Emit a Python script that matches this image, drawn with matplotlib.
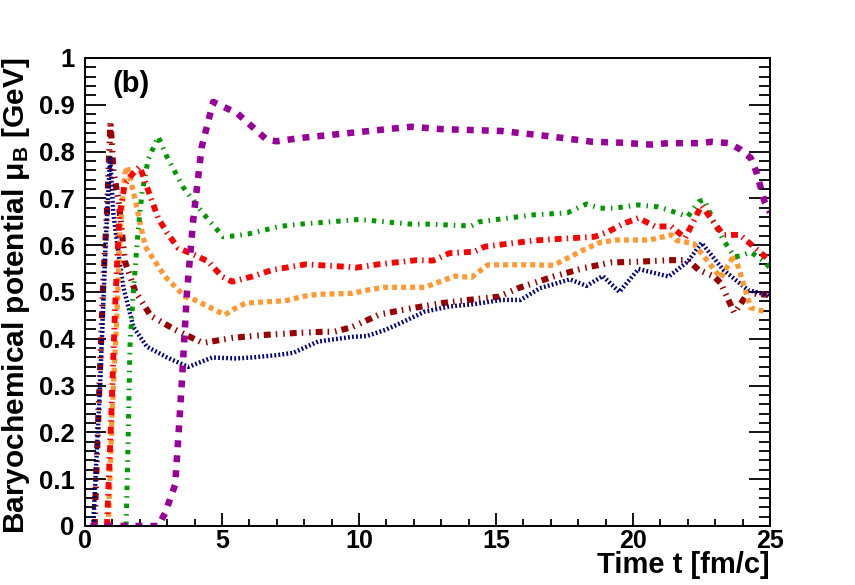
import matplotlib
matplotlib.use("Agg")
import matplotlib.pyplot as plt
from matplotlib.ticker import MultipleLocator, FixedLocator

plt.rcParams['font.family'] = ['Liberation Sans', 'DejaVu Sans']
plt.rcParams['font.weight'] = 'bold'
plt.rcParams['mathtext.fontset'] = 'custom'
plt.rcParams['mathtext.rm'] = 'Liberation Sans'
plt.rcParams['mathtext.it'] = 'Liberation Sans'
plt.rcParams['mathtext.bf'] = 'Liberation Sans:bold'
plt.rcParams['lines.scale_dashes'] = False

# navy, fine dotted
t_navy = [0.3, 0.55, 0.75, 0.92, 1.03, 1.25, 1.4, 1.77, 2.26, 3.0, 3.77, 4.3, 4.64, 5.5, 6.1, 7.0, 7.6,
          8.5, 9.1, 9.75, 10.3, 10.96, 11.5, 12.4, 13.3, 14.2, 15.2, 15.9, 16.6, 17.7, 18.3, 18.9,
          19.5, 20.2, 21.3, 22.0, 22.5, 23.3, 24.2, 24.9, 25.0]
mu_navy = [0.0, 0.3, 0.6, 0.79, 0.67, 0.57, 0.51, 0.425, 0.383, 0.36, 0.34, 0.352, 0.36, 0.358, 0.36,
           0.365, 0.37, 0.394, 0.399, 0.404, 0.406, 0.419, 0.433, 0.458, 0.469, 0.474, 0.483, 0.483,
           0.508, 0.527, 0.513, 0.534, 0.50, 0.549, 0.533, 0.565, 0.605, 0.547, 0.504, 0.494, 0.49]

# dark red
t_dred = [0.35, 0.49, 0.67, 0.8, 0.93, 1.04, 1.22, 1.46, 1.83, 2.4, 3.3, 4.3, 5.4, 6.5, 7.6, 8.7,
          9.1, 9.75, 10.75, 11.9, 13.0, 14.0, 15.1, 15.8, 17.1, 18.2, 19.2, 20.3, 21.4, 22.0, 22.4,
          22.96, 23.2, 23.7, 24.2, 24.9]
mu_dred = [0.0, 0.24, 0.525, 0.668, 0.865, 0.757, 0.697, 0.565, 0.502, 0.449, 0.419, 0.391, 0.402,
           0.408, 0.412, 0.415, 0.415, 0.425, 0.452, 0.465, 0.476, 0.483, 0.49, 0.508, 0.533, 0.551,
           0.563, 0.565, 0.568, 0.568, 0.547, 0.533, 0.519, 0.455, 0.498, 0.494]

# orange
t_orange = [0.85, 0.99, 1.17, 1.28, 1.46, 1.55, 1.83, 2.2, 2.92, 3.65, 4.0, 4.63, 5.1, 5.48, 5.85,
            6.58, 7.3, 8.0, 8.5, 9.75, 10.3, 10.9, 12.4, 13.5, 14.1, 14.7, 16.4, 17.1, 18.2, 18.8,
            19.4, 20.6, 21.4, 21.6, 22.2, 22.7, 23.2, 23.7, 24.3, 24.9]
mu_orange = [0.0, 0.24, 0.455, 0.632, 0.754, 0.768, 0.697, 0.597, 0.533, 0.49, 0.483, 0.465, 0.451,
             0.465, 0.476, 0.479, 0.481, 0.491, 0.495, 0.497, 0.504, 0.51, 0.51, 0.534, 0.531, 0.558,
             0.558, 0.557, 0.59, 0.606, 0.611, 0.611, 0.622, 0.61, 0.604, 0.568, 0.53, 0.58, 0.466,
             0.457]

# red
t_red = [0.8, 0.95, 1.1, 1.25, 1.45, 1.7, 2.0, 2.3, 2.67, 3.0, 3.4, 4.0, 4.5, 5.0, 5.37, 6.1, 6.83,
         8.05, 9.5, 9.9, 10.7, 12.1, 12.7, 13.3, 14.2, 14.6, 16.4, 18.6, 19.1, 19.7, 20.2, 20.8,
         21.4, 21.9, 22.2, 22.5, 22.97, 23.3, 23.9, 24.4, 24.97]
mu_red = [0.0, 0.22, 0.47, 0.66, 0.73, 0.75, 0.768, 0.718, 0.658, 0.626, 0.594, 0.579, 0.565, 0.533,
          0.522, 0.533, 0.547, 0.559, 0.554, 0.552, 0.559, 0.568, 0.567, 0.583, 0.586, 0.597, 0.61,
          0.618, 0.629, 0.647, 0.658, 0.64, 0.64, 0.615, 0.65, 0.685, 0.647, 0.622, 0.622, 0.597,
          0.568]

# green
t_green = [1.5, 1.57, 1.64, 1.75, 1.94, 2.08, 2.3, 2.67, 2.99, 3.58, 4.31, 5.04, 5.5, 5.96, 7.1,
           7.86, 9.0, 10.0, 11.5, 11.9, 12.5, 14.1, 14.4, 16.4, 17.6, 18.3, 18.8, 19.3, 20.2, 20.9,
           21.5, 22.0, 22.4, 22.6, 23.0, 23.3, 23.7, 23.9, 24.3, 24.8, 25.0]
mu_green = [0.0, 0.17, 0.383, 0.49, 0.632, 0.711, 0.782, 0.832, 0.789, 0.724, 0.668, 0.618, 0.62,
            0.624, 0.64, 0.645, 0.65, 0.655, 0.647, 0.645, 0.645, 0.641, 0.65, 0.665, 0.669, 0.688,
            0.679, 0.679, 0.686, 0.682, 0.671, 0.661, 0.693, 0.697, 0.643, 0.611, 0.575, 0.577,
            0.585, 0.565, 0.551]

# purple
t_purple = [0.2, 1.0, 2.0, 2.67, 2.92, 3.29, 3.4, 3.54, 3.72, 3.95, 4.26, 4.68, 5.55, 6.64, 7.0,
            7.86, 9.7, 11.9, 13.0, 15.2, 16.9, 18.5, 19.55, 20.65, 21.3, 22.4, 22.9, 23.5, 23.9,
            24.3, 24.5, 24.65, 24.8, 25.0]
mu_purple = [0.0, 0.0, 0.0, 0.0, 0.027, 0.088, 0.184, 0.312, 0.498, 0.654, 0.81, 0.906, 0.882,
             0.825, 0.822, 0.829, 0.84, 0.853, 0.848, 0.844, 0.833, 0.821, 0.819, 0.815, 0.818,
             0.818, 0.821, 0.818, 0.805, 0.786, 0.757, 0.725, 0.693, 0.67]

y_ticks = [0, 0.1, 0.2, 0.3, 0.4, 0.5, 0.6, 0.7, 0.8, 0.9, 1.0]
y_ticklabels = ['0', '0.1', '0.2', '0.3', '0.4', '0.5', '0.6', '0.7', '0.8', '0.9', '1']

fig = plt.figure(figsize=(8.55, 5.85), dpi=100)
ax = fig.add_axes([0.0994, 0.1009, 0.8012, 0.8])

ax.plot(t_dred, mu_dred, color='#990000', lw=4.4, dashes=[5, 3.6, 1.1, 4.3, 1.1, 3.6])
ax.plot(t_navy, mu_navy, color='#000080', lw=3.2, dashes=[1.3, 1.6])
ax.plot(t_orange, mu_orange, color='#ff9933', lw=3.8, dashes=[3.6, 2.9])
ax.plot(t_green, mu_green, color='#009900', lw=3.6, dashes=[3.2, 4.3, 1.1, 4.3])
ax.plot(t_red, mu_red, color='#ff0000', lw=4.2, dashes=[5, 3.6, 1.1, 3.6])
ax.plot(t_purple, mu_purple, color='#990099', lw=4.7, dashes=[5, 5.8])

ax.set_xlim(0, 25)
ax.set_ylim(0, 1)

ax.xaxis.set_major_locator(MultipleLocator(5))
ax.xaxis.set_minor_locator(MultipleLocator(1))
ax.yaxis.set_major_locator(FixedLocator(y_ticks))
ax.yaxis.set_minor_locator(MultipleLocator(0.02))
ax.set_yticklabels(y_ticklabels)

ax.tick_params(axis='y', which='both', direction='in', left=True, right=True, width=1.3, pad=7.5,
               labelsize=18.5)
ax.tick_params(axis='y', which='major', length=15)
ax.tick_params(axis='y', which='minor', length=8)
ax.tick_params(axis='x', which='both', direction='in', bottom=True, top=False, width=1.3, pad=2.5,
               labelsize=18)
ax.tick_params(axis='x', which='major', length=9.5)
ax.tick_params(axis='x', which='minor', length=5)
for s in ax.spines.values():
    s.set_linewidth(1.4)

ax.set_xlabel('Time t [fm/c]', fontsize=21, fontweight='bold', loc='right')
ax.xaxis.set_label_coords(1.0, -0.0545)
ax.set_ylabel(r'Baryochemical potential $\mathrm{\mu}_{\mathbf{B}}$ [GeV]', fontsize=21.5,
              fontweight='bold', loc='top')
ax.yaxis.set_label_coords(-0.078, 1.0)

ax.text(1.02, 0.944, '(b)', fontsize=21, fontweight='bold', ha='left', va='center')

fig.savefig('out.png', dpi=100)
